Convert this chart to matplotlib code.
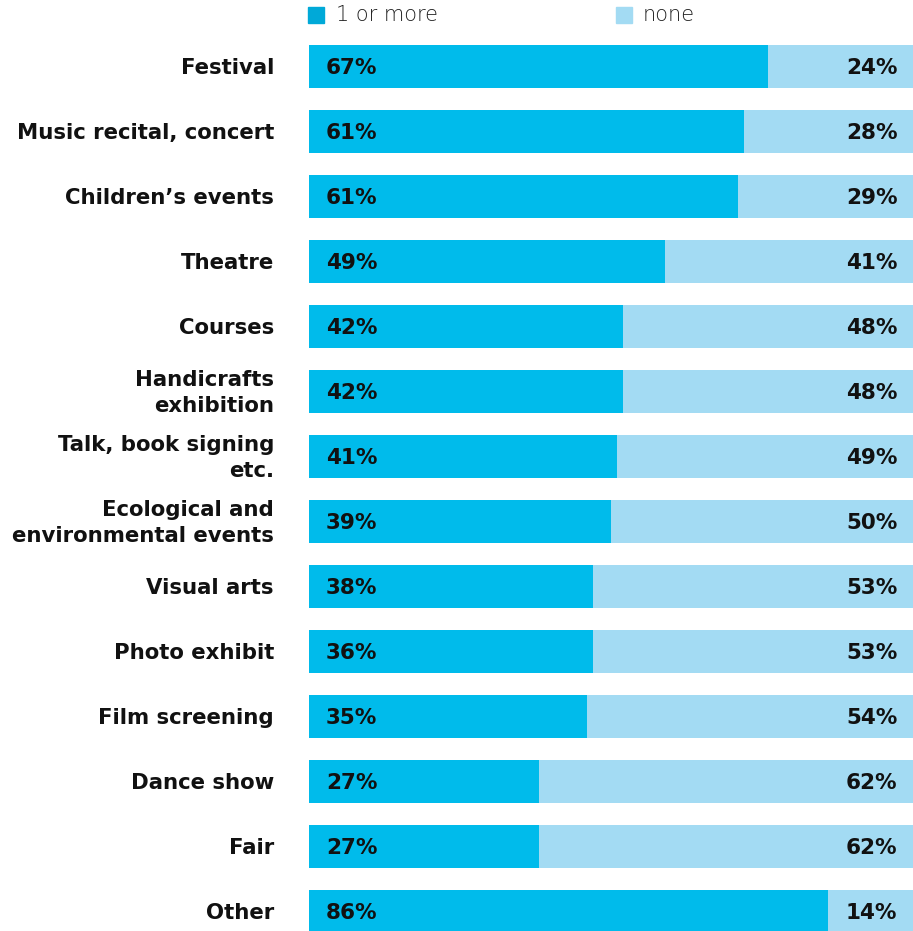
import matplotlib
matplotlib.use("Agg")
import matplotlib.pyplot as plt
from matplotlib.patches import Rectangle

# dati
categorie = ["Festival", "Music recital, concert", "Children\u2019s events", "Theatre",
             "Courses", "Handicrafts\nexhibition", "Talk, book signing\netc.",
             "Ecological and\nenvironmental events", "Visual arts", "Photo exhibit",
             "Film screening", "Dance show", "Fair", "Other"]
uno_o_piu = [67, 61, 61, 49, 42, 42, 41, 39, 38, 36, 35, 27, 27, 86]
nessuno = [24, 28, 29, 41, 48, 48, 49, 50, 53, 53, 54, 62, 62, 14]

col_scuro = "#00bbeb"
col_chiaro = "#a3dbf3"
col_legenda = "#00a9d8"

fig = plt.figure(figsize=(9.13, 9.31), dpi=100)
ax = fig.add_axes([309 / 913, 0, 1 - 309 / 913, 1])

y = list(range(len(categorie)))
# la parte "none" e' allineata a destra, il resto riempie la barra
sinistra = [100 - n for n in nessuno]
ax.barh(y, sinistra, height=0.66, color=col_scuro)
ax.barh(y, nessuno, left=sinistra, height=0.66, color=col_chiaro)

for i in y:
    ax.text(2.8, i + 0.03, f"{uno_o_piu[i]}%", ha="left", va="center",
            fontsize=15.5, fontweight="bold", color="#111111")
    ax.text(97.4, i + 0.03, f"{nessuno[i]}%", ha="right", va="center",
            fontsize=15.5, fontweight="bold", color="#111111")
    ax.text(-5.8, i + 0.03, categorie[i], ha="right", va="center", fontsize=15.3,
            fontweight="bold", color="#111111", linespacing=1.38, clip_on=False)

ax.set_xlim(0, 100)
ax.set_ylim((931 - 66.5) / 65, -66.5 / 65)
ax.axis("off")

# legenda
fig.patches.append(Rectangle((308 / 913, 1 - 23 / 931), 16 / 913, 16 / 931,
                             transform=fig.transFigure, color=col_legenda))
fig.text(336 / 913, 1 - 15 / 931, "1 or more", ha="left", va="center",
         fontsize=15, color="#222222", fontweight="light")
fig.patches.append(Rectangle((616 / 913, 1 - 23 / 931), 16 / 913, 16 / 931,
                             transform=fig.transFigure, color=col_chiaro))
fig.text(643 / 913, 1 - 15 / 931, "none", ha="left", va="center",
         fontsize=15, color="#222222", fontweight="light")

fig.savefig("out.png", dpi=100)
